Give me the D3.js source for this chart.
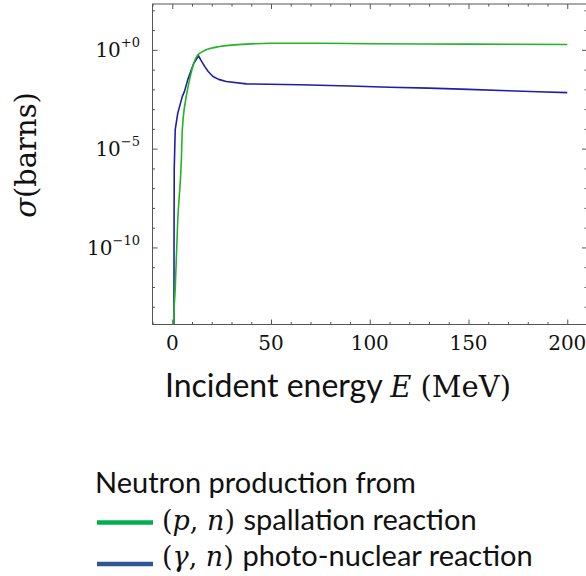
<!doctype html>
<html lang="en">
<head>
<meta charset="UTF-8" />
<title>Neutron production cross sections</title>
<style>
  body { margin: 0; overflow: hidden; background: #fff; }
  svg { display: block; }
  .serif { font-family: "DejaVu Serif", serif; }
  .sans { font-family: Lato, "Open Sans", sans-serif; }
  .frame { fill: none; stroke: #555; stroke-width: 1px; }
  .tick line { stroke: #555; }
  .domain { display: none; }
</style>
</head>
<body>
<script src="https://cdn.jsdelivr.net/npm/d3@7/dist/d3.min.js"></script>
<script>
// (p,n) spallation reaction
const energyPN = [0.5, 0.7, 1.5, 2.8, 4.6, 5.1, 7.1, 8.8, 10.9, 13, 17.2, 24, 37.5, 50, 75, 100, 150, 200];
const sigmaPN = [1e-15, 1.3e-14, 8e-13, 2.5e-9, 2.5e-6, 9e-5, 4.4e-3, 0.032, 0.21, 0.56, 1.0, 1.48, 1.95, 2.14, 2.14, 2.04, 1.95, 1.86];

// (gamma,n) photo-nuclear reaction
const energyGN = [0.85, 0.9, 1.0, 1.5, 2.8, 5.1, 6.2, 7.9, 10.9, 13.3, 14.8, 16.4, 18.2, 20.6, 23.5, 27.3, 37.5, 64.5, 90, 110, 130, 150, 170, 185, 200];
const sigmaGN = [1e-15, 1e-10, 8.7e-7, 9.1e-5, 6.3e-4, 4.4e-3, 7.9e-3, 0.032, 0.21, 0.5, 0.27, 0.145, 0.08, 0.045, 0.032, 0.025, 0.019, 0.017, 0.0148, 0.0129, 0.0115, 0.01, 0.0085, 0.0076, 0.0068];

const xMajor = [0, 50, 100, 150, 200];
const yMajor = [1e-10, 1e-5, 1];
const yMajorText = [["10", "−10"], ["10", "−5"], ["10", "+0"]];

const legendTitle = "Neutron production from";
const legendMath = [["p", "n"], ["γ", "n"]];
const legendText = ["spallation reaction", "photo-nuclear reaction"];
const legendColor = ["#00b050", "#2f5597"];

const width = 586, height = 576;
const plot = { left: 152.5, right: 587, top: 4, bottom: 324.5 };

const svg = d3.select("body").append("svg")
  .attr("width", width).attr("height", height);

const x = d3.scaleLinear().domain([-10, 210]).range([plot.left, plot.right]);
const y = d3.scaleLog().domain([Math.pow(10, -13.9), Math.pow(10, 2.32)]).range([plot.bottom, plot.top]);

const xMinor = d3.range(-10, 211, 10).filter((v) => v % 50 !== 0);
const yMinor = d3.range(-13, 3).map((p) => Math.pow(10, p)).filter((v) => !yMajor.includes(v));

// ticks on all four sides, pointing inward
function ticks(axisFn, scale, values, size, transform) {
  svg.append("g")
    .attr("transform", transform)
    .call(axisFn(scale).tickValues(values).tickSize(size).tickFormat(""));
}
ticks(d3.axisBottom, x, xMajor, -5, `translate(0,${plot.bottom})`);
ticks(d3.axisBottom, x, xMinor, -2.5, `translate(0,${plot.bottom})`);
ticks(d3.axisTop, x, xMajor, -5, `translate(0,${plot.top})`);
ticks(d3.axisTop, x, xMinor, -2.5, `translate(0,${plot.top})`);
ticks(d3.axisLeft, y, yMajor, -5, `translate(${plot.left},0)`);
ticks(d3.axisLeft, y, yMinor, -2.5, `translate(${plot.left},0)`);
ticks(d3.axisRight, y, yMajor, -5, `translate(${plot.right},0)`);
ticks(d3.axisRight, y, yMinor, -2.5, `translate(${plot.right},0)`);

svg.append("rect").attr("class", "frame")
  .attr("x", plot.left).attr("y", plot.top)
  .attr("width", plot.right - plot.left).attr("height", plot.bottom - plot.top);

// x tick labels
svg.append("g").selectAll("text").data(xMajor).join("text")
  .attr("class", "serif")
  .attr("x", (d) => x(d)).attr("y", 350)
  .attr("text-anchor", "middle").attr("font-size", 20).attr("fill", "#111")
  .text((d) => d);

// y tick labels with superscripts
const yl = svg.append("g").selectAll("text").data(yMajor).join("text")
  .attr("class", "serif")
  .attr("x", 140).attr("y", (d) => y(d) + 7.5)
  .attr("text-anchor", "end").attr("font-size", 20).attr("fill", "#111");
yl.append("tspan").text((d, i) => yMajorText[i][0]);
yl.append("tspan").attr("dy", -10).attr("font-size", 13).text((d, i) => yMajorText[i][1]);

// curves
svg.append("clipPath").attr("id", "clip").append("rect")
  .attr("x", plot.left).attr("y", plot.top)
  .attr("width", plot.right - plot.left).attr("height", plot.bottom - plot.top);

const pn = energyPN.map((e, i) => [e, sigmaPN[i]]);
const gn = energyGN.map((e, i) => [e, sigmaGN[i]]);

const lineSmooth = d3.line().x((d) => x(d[0])).y((d) => y(d[1])).curve(d3.curveMonotoneX);
const lineSharp = d3.line().x((d) => x(d[0])).y((d) => y(d[1]));

const curves = svg.append("g").attr("clip-path", "url(#clip)");
curves.append("path").datum(gn).attr("d", lineSharp)
  .attr("fill", "none").attr("stroke", "#1e1eac").attr("stroke-width", 1.6).attr("stroke-linejoin", "round");
curves.append("path").datum(pn).attr("d", lineSmooth)
  .attr("fill", "none").attr("stroke", "#22b422").attr("stroke-width", 1.6);

// axis titles
const yt = svg.append("text").attr("class", "serif")
  .attr("transform", "translate(36,155) rotate(-90)")
  .attr("text-anchor", "middle").attr("font-size", 29).attr("fill", "#111");
yt.append("tspan").attr("font-style", "italic").text("σ");
yt.append("tspan").text("(barns)");

const xt = svg.append("text").attr("x", 165).attr("y", 397).attr("fill", "#111");
xt.append("tspan").attr("class", "sans").attr("font-size", 32).text("Incident energy ");
xt.append("tspan").attr("class", "serif").attr("font-size", 29).attr("font-style", "italic").text("E");
xt.append("tspan").attr("class", "serif").attr("font-size", 29).text(" (MeV)");

// legend
const lg = svg.append("g");
lg.append("text").attr("class", "sans").attr("x", 95).attr("y", 493)
  .attr("font-size", 29).attr("fill", "#111").text(legendTitle);

const rowLine = [522.5, 564];
const rowBase = [530, 566];
const rows = lg.selectAll("g.row").data(legendText).join("g").attr("class", "row");
rows.append("line").attr("x1", 97).attr("x2", 153)
  .attr("y1", (d, i) => rowLine[i]).attr("y2", (d, i) => rowLine[i])
  .attr("stroke", (d, i) => legendColor[i]).attr("stroke-width", 4.5);
const rt = rows.append("text").attr("x", 162).attr("y", (d, i) => rowBase[i]).attr("fill", "#111");
rt.append("tspan").attr("class", "serif").attr("font-size", 27).text("(");
rt.append("tspan").attr("class", "serif").attr("font-size", 27).attr("font-style", "italic").text((d, i) => legendMath[i][0]);
rt.append("tspan").attr("class", "serif").attr("font-size", 27).text(", ");
rt.append("tspan").attr("class", "serif").attr("font-size", 27).attr("font-style", "italic").text((d, i) => legendMath[i][1]);
rt.append("tspan").attr("class", "serif").attr("font-size", 27).text(") ");
rt.append("tspan").attr("class", "sans").attr("font-size", 29).text((d) => d);
</script>
</body>
</html>
